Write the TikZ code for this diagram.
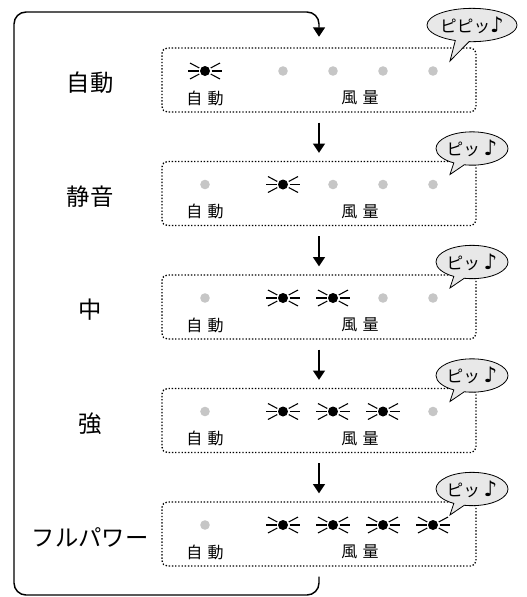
\documentclass[tikz,border=0pt]{standalone}
\usepackage{fontspec}
\setmainfont{Noto Sans CJK JP}
\newfontfamily\notefont{DejaVu Sans}
\usetikzlibrary{arrows.meta,shapes.callouts}
\tikzset{
    flow/.style={line width=1.1pt,-{Triangle[width=9pt,length=7pt]}},
    panel/.style={draw,dash pattern=on 1pt off 1.4pt,line width=1pt,rounded corners=4pt,minimum width=235.5pt,minimum height=48pt},
    bubble/.style={draw,ellipse callout,fill=gray!18,line width=0.6pt,minimum width=54pt,minimum height=25pt,inner sep=0pt,callout pointer arc=18,font=\fontsize{12.5}{13}\selectfont},
    modelabel/.style={font=\fontsize{17.5}{18}\selectfont},
    smalllabel/.style={font=\fontsize{12}{12}\selectfont},
    lampon/.pic={
        \fill (0,0) circle (5);
        \foreach \a in {0,28,-28,180,152,208}
            \draw[line width=0.8pt] (\a:6.5) -- (\a:17);
    },
    lampoff/.pic={\fill[gray!45] (0,0) circle (4.8);}
}
\begin{document}
\begin{tikzpicture}[x=0.75pt,y=-0.75pt]
                \useasboundingbox (0,0) rectangle (526,597);
                \foreach \n/\lbl/\k/\bub/\by in {1/自動/0/ピピッ/23, 2/静音/1/ピッ\ /13, 3/中/2/ピッ\ /13, 4/強/3/ピッ\ /13, 5/フルパワー/4/ピッ\ /13}
                {
                    \pgfmathsetmacro\ytop{48+(\n-1)*113.5}
                    \node[panel] (box\n) at (319,\ytop+32) {};
                    \node[modelabel] (mode\n) at (90,\ytop+35) {\lbl};
                    \node[smalllabel] (auto\n) at (205,\ytop+50) {自\hspace{4pt}動};
                    \node[smalllabel] (wind\n) at (360,\ytop+50) {風\hspace{4pt}量};
                    \ifnum\n=1
                        \pic at (205,\ytop+23) {lampon};
                    \else
                        \pic at (205,\ytop+23) {lampoff};
                    \fi
                    \foreach \i in {1,2,3,4}
                    {
                        \ifnum\i>\k
                            \pic at (233+50*\i,\ytop+23) {lampoff};
                        \else
                            \pic at (233+50*\i,\ytop+23) {lampon};
                        \fi
                    }
                    \node[bubble,callout absolute pointer={(450,\ytop+13)}] (beep\n) at (472,\ytop-\by) {\bub{\notefont\bfseries\fontsize{16}{16}\selectfont ♪}};
                }
                \foreach \a/\b in {1/2,2/3,3/4,4/5}
                {
                    \draw[flow] ([yshift=-7.5pt]box\a.south) -- ([yshift=6pt]box\b.north);
                }
                \draw[flow,rounded corners=9pt] ([yshift=-7.5pt]box5.south) |- (14,595) -- (14,12) -| ([yshift=8pt]box1.north);
\end{tikzpicture}
\end{document}
